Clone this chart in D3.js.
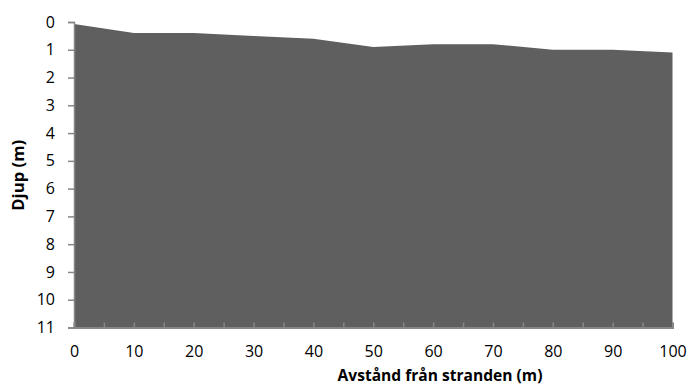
<!DOCTYPE html>
<html>
<head>
<meta charset="utf-8">
<script src="https://cdn.jsdelivr.net/npm/d3@7"></script>
<style>
  html, body { margin: 0; padding: 0; background: #fff; }
  svg { display: block; }
  text { font-family: "Open Sans", "Noto Sans", sans-serif; fill: #000; }
</style>
</head>
<body>
<svg id="chart" width="689" height="386"></svg>
<script>
// Data
const distances = [0, 10, 20, 30, 40, 50, 60, 70, 80, 90, 100];
const depths = [0.07, 0.4, 0.4, 0.5, 0.6, 0.9, 0.8, 0.8, 1.0, 1.0, 1.1];
const yTicks = [0, 1, 2, 3, 4, 5, 6, 7, 8, 9, 10, 11];
const xLabelTicks = [0, 10, 20, 30, 40, 50, 60, 70, 80, 90, 100];
const xMinorTicks = [0, 5, 10, 15, 20, 25, 30, 35, 40, 45, 50, 55, 60, 65, 70, 75, 80, 85, 90, 95, 100];
const xTitle = "Avstånd från stranden (m)";
const yTitle = "Djup (m)";

const svg = d3.select("#chart");
const axisColor = "#868686";
const fillColor = "#5f5f5f";

const x = d3.scaleLinear().domain([0, 100]).range([74, 672.5]);
const y = d3.scaleLinear().domain([0, 11]).range([22, 327.5]);

const data = distances.map((d, i) => ({ d, v: depths[i] }));

// Area
const area = d3.area()
  .x(p => x(p.d))
  .y0(y(11))
  .y1(p => y(p.v));

svg.append("path")
  .datum(data)
  .attr("d", area)
  .attr("fill", fillColor);

// Y axis
const yAxis = d3.axisLeft(y).tickValues(yTicks).tickSize(6).tickPadding(13).tickFormat(d3.format("d"));
const gy = svg.append("g").attr("transform", `translate(${x(0)},0)`).call(yAxis);
gy.select(".domain").attr("stroke", axisColor).attr("stroke-width", 1.5);
gy.selectAll(".tick line").attr("stroke", axisColor).attr("stroke-width", 1.5);
gy.selectAll(".tick text").style("font-size", "16px").attr("fill", "#000");

// X axis (minor ticks inward)
const xAxisMinor = d3.axisTop(x).tickValues(xMinorTicks).tickSize(5).tickFormat("");
const gxm = svg.append("g").attr("transform", `translate(0,${y(11)})`).call(xAxisMinor);
gxm.select(".domain").attr("stroke", axisColor).attr("stroke-width", 2);
gxm.selectAll(".tick line").attr("stroke", axisColor).attr("stroke-width", 1.5);

const xAxis = d3.axisBottom(x).tickValues(xLabelTicks).tickSize(0).tickPadding(18).tickFormat(d3.format("d"));
const gx = svg.append("g").attr("transform", `translate(0,${y(11)})`).call(xAxis);
gx.select(".domain").remove();
gx.selectAll(".tick text").style("font-size", "16px").attr("fill", "#000");

// Titles (sized to fit measured extents)
function fitText(sel, target) {
  const len = sel.node().getComputedTextLength();
  const fs = parseFloat(sel.style("font-size"));
  sel.style("font-size", (fs * target / len) + "px");
}

const xt = svg.append("text")
  .attr("x", 440)
  .attr("y", 381)
  .attr("text-anchor", "middle")
  .style("font-size", "16px")
  .style("font-weight", "bold")
  .text(xTitle);
fitText(xt, 205);

const yt = svg.append("text")
  .attr("transform", `translate(24,${(y(0) + y(11)) / 2 + 0.5}) rotate(-90)`)
  .attr("text-anchor", "middle")
  .style("font-size", "16px")
  .style("font-weight", "bold")
  .text(yTitle);
fitText(yt, 71);
</script>
</body>
</html>
